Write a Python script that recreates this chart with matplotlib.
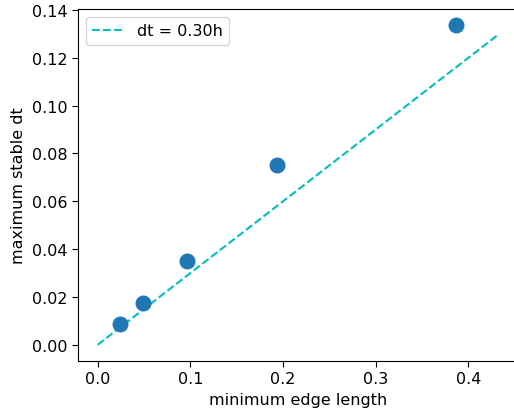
import numpy as np
import matplotlib
matplotlib.use("Agg")
import matplotlib.pyplot as plt

# minimum edge length of each mesh and the largest dt that stayed stable
edge_length = [0.0242, 0.0484, 0.0968, 0.1935, 0.387]
max_dt = [0.00875, 0.0175, 0.0352, 0.0752, 0.1337]

# reference line dt = C * h
courant = 0.30
h_ref = np.linspace(0.0, 0.432, 50)

plt.rcParams["font.size"] = 11.5
plt.rcParams["xtick.major.size"] = 4
plt.rcParams["ytick.major.size"] = 4

fig, ax = plt.subplots(figsize=(5.14, 4.14), dpi=100)
ax.plot(h_ref, courant * h_ref, "c--", label="dt = %.2fh" % courant)
ax.scatter(edge_length, max_dt, s=110, color="tab:blue", zorder=3)
ax.set_xlabel("minimum edge length")
ax.set_ylabel("maximum stable dt")
ax.legend(loc="upper left")
fig.subplots_adjust(left=0.151, right=1.008, top=0.976, bottom=0.126)
fig.savefig("out.png")
